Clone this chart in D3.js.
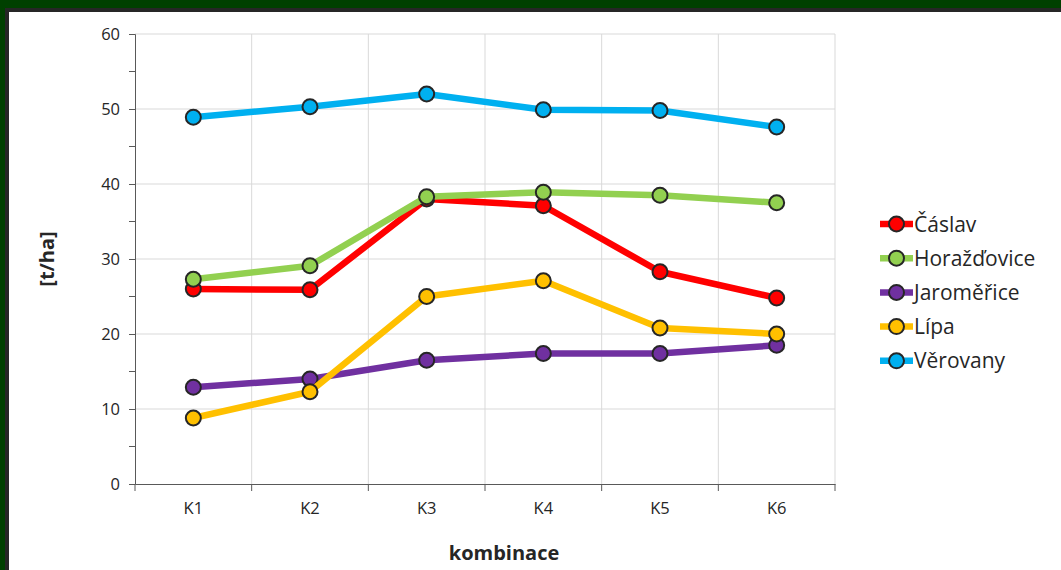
<!DOCTYPE html>
<html>
<head>
<meta charset="utf-8">
<script src="https://cdn.jsdelivr.net/npm/d3@7"></script>
<style>
  html, body { margin: 0; padding: 0; background: #004000; }
  svg { display: block; }
  text { font-family: "Open Sans", "Noto Sans", sans-serif; fill: #262626; }
</style>
</head>
<body>
<svg id="chart" width="1061" height="570"></svg>
<script>
// Yields per site [t/ha] for combinations K1–K6
const categories = ["K1", "K2", "K3", "K4", "K5", "K6"];
const seriesNames = ["Čáslav", "Horažďovice", "Jaroměřice", "Lípa", "Věrovany"];
const caslav      = [26.0, 25.9, 38.0, 37.1, 28.3, 24.8];
const horazdovice = [27.3, 29.1, 38.3, 38.9, 38.5, 37.5];
const jaromerice  = [12.9, 14.0, 16.5, 17.4, 17.4, 18.5];
const lipa        = [8.8, 12.3, 25.0, 27.1, 20.8, 20.0];
const verovany    = [48.9, 50.3, 52.0, 49.9, 49.8, 47.6];
const seriesColors = ["#FF0000", "#92D050", "#7030A0", "#FFC000", "#00B0F0"];
const yTicks = [0, 10, 20, 30, 40, 50, 60];
const yMinorTicks = [5, 15, 25, 35, 45, 55];

const seriesValues = [caslav, horazdovice, jaromerice, lipa, verovany];
const series = seriesNames.map((name, i) => ({ name, color: seriesColors[i], values: seriesValues[i] }));

const svg = d3.select("#chart");

// frame: dark outer border and white canvas
svg.append("rect").attr("x", 5).attr("y", 8).attr("width", 1100).attr("height", 600).attr("fill", "#262626");
svg.append("rect").attr("x", 9).attr("y", 12).attr("width", 1100).attr("height", 600).attr("fill", "#ffffff");

const plot = { left: 135, right: 835, top: 34, bottom: 484 };

const x = d3.scaleBand().domain(categories).range([plot.left, plot.right]);
const y = d3.scaleLinear().domain([0, 60]).range([plot.bottom, plot.top]);

// gridlines
const grid = svg.append("g");
grid.selectAll("line.h").data(yTicks.filter(d => d > 0)).join("line")
  .attr("x1", plot.left).attr("x2", plot.right)
  .attr("y1", d => y(d)).attr("y2", d => y(d))
  .attr("stroke", "#d9d9d9").attr("stroke-width", 1);
const bounds = categories.map(c => x(c) + x.bandwidth());
grid.selectAll("line.v").data(bounds).join("line")
  .attr("x1", d => d).attr("x2", d => d)
  .attr("y1", plot.top).attr("y2", plot.bottom)
  .attr("stroke", "#d9d9d9").attr("stroke-width", 1);

// y axis
const yAxis = svg.append("g").attr("transform", `translate(${plot.left},0)`)
  .call(d3.axisLeft(y).tickValues(yTicks).tickSize(6).tickPadding(9));
yAxis.append("g").selectAll("line").data(yMinorTicks).join("line")
  .attr("x1", -6).attr("x2", 0).attr("y1", d => y(d)).attr("y2", d => y(d))
  .attr("stroke", "#595959");
yAxis.select(".domain").attr("stroke", "#595959");
yAxis.selectAll(".tick line").attr("stroke", "#595959");
yAxis.selectAll(".tick text").style("font-size", "16.5px").attr("fill", "#262626");

// x axis with ticks at category boundaries
const xAxis = svg.append("g").attr("transform", `translate(0,${plot.bottom})`)
  .call(d3.axisBottom(x).tickSize(0).tickPadding(18));
xAxis.select(".domain").attr("stroke", "#595959");
xAxis.selectAll(".tick text").style("font-size", "16.5px").attr("fill", "#262626");
xAxis.append("g").selectAll("line").data([plot.left].concat(bounds)).join("line")
  .attr("x1", d => d).attr("x2", d => d).attr("y1", 0).attr("y2", 7)
  .attr("stroke", "#595959");

// axis titles
svg.append("text").attr("x", 504).attr("y", 560)
  .attr("text-anchor", "middle").style("font-size", "20px").style("font-weight", "bold")
  .text("kombinace");
svg.append("text").attr("transform", "translate(54,259) rotate(-90)")
  .attr("text-anchor", "middle").style("font-size", "20px").style("font-weight", "bold")
  .text("[t/ha]");

// series
const line = d3.line().x((d, i) => x(categories[i]) + x.bandwidth() / 2).y(d => y(d));
series.forEach(s => {
  const g = svg.append("g");
  g.append("path").datum(s.values).attr("d", line)
    .attr("fill", "none").attr("stroke", s.color).attr("stroke-width", 6.5)
    .attr("stroke-linejoin", "round");
  g.selectAll("circle").data(s.values).join("circle")
    .attr("cx", (d, i) => x(categories[i]) + x.bandwidth() / 2)
    .attr("cy", d => y(d)).attr("r", 7.5)
    .attr("fill", s.color).attr("stroke", "#262626").attr("stroke-width", 2);
});

// legend
const legend = svg.append("g");
series.forEach((s, i) => {
  const ly = 224 + i * 34.2;
  const item = legend.append("g").attr("transform", `translate(0,${ly})`);
  item.append("line").attr("x1", 880).attr("x2", 913).attr("y1", 0).attr("y2", 0)
    .attr("stroke", s.color).attr("stroke-width", 6.5);
  item.append("circle").attr("cx", 896.5).attr("cy", 0).attr("r", 7.5)
    .attr("fill", s.color).attr("stroke", "#262626").attr("stroke-width", 2);
  item.append("text").attr("x", 914).attr("y", 7.5).style("font-size", "21px").text(s.name);
});
</script>
</body>
</html>
